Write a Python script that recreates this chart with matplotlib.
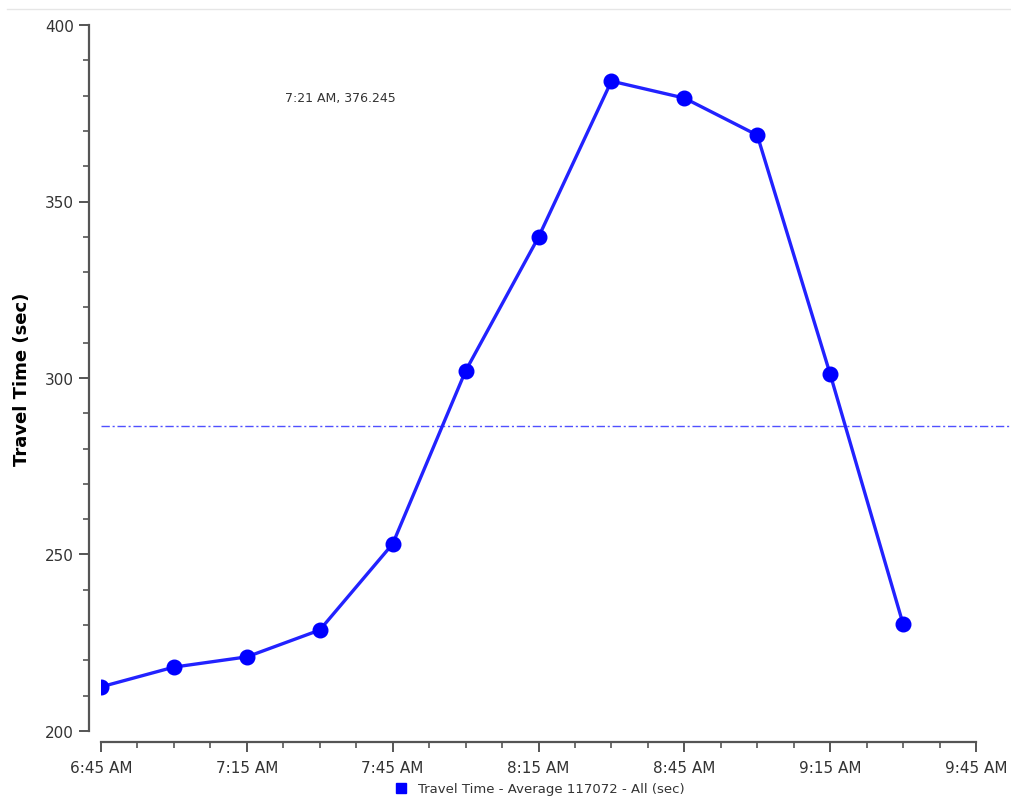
import matplotlib
matplotlib.use('Agg')
import matplotlib.pyplot as plt
from matplotlib.lines import Line2D
from matplotlib.ticker import MultipleLocator

# minutes after midnight, 15-minute bins
times = [405, 420, 435, 450, 465, 480, 495, 510, 525, 540, 555, 570]
travel_time = [212.5, 218.1, 221.0, 228.6, 253.0, 302.0, 339.9, 384.1, 379.3, 368.8, 301.1, 230.3]
average = 286.4

tick_times = [405, 435, 465, 495, 525, 555, 585]
tick_labels = ['6:45 AM', '7:15 AM', '7:45 AM', '8:15 AM', '8:45 AM', '9:15 AM', '9:45 AM']
y_ticks = [200, 250, 300, 350, 400]

BLUE = '#2222ff'
GREY = '#555555'

fig = plt.figure(figsize=(10.12, 8.04), dpi=100)
ax = fig.add_axes([101 / 1012, 72 / 804, 875 / 1012, 706 / 804])

ax.plot(times, travel_time, color=BLUE, linewidth=2.4, marker='o',
        markersize=10.5, markerfacecolor='#0000ff', markeredgecolor='#0000ff', zorder=3)

# average line runs past the plot area to the right edge
ax.axhline(average, xmin=0, xmax=1.04, color='#5050ff', linewidth=1,
           linestyle=(0, (6, 2, 1.5, 2)), clip_on=False, zorder=2)

ax.set_xlim(tick_times[0], tick_times[-1])
ax.set_ylim(200, 400)
ax.set_xticks(tick_times)
ax.set_xticklabels(tick_labels)
ax.xaxis.set_minor_locator(MultipleLocator(7.5))
ax.set_yticks(y_ticks)
ax.yaxis.set_minor_locator(MultipleLocator(10))

for side in ['top', 'right']:
    ax.spines[side].set_visible(False)
ax.spines['left'].set_position(('outward', 9))
ax.spines['bottom'].set_position(('outward', 8))
for side in ['left', 'bottom']:
    ax.spines[side].set_color(GREY)
    ax.spines[side].set_linewidth(1.6)

ax.tick_params(which='major', length=7, width=1.4, color=GREY, labelsize=11,
               labelcolor='#333333')
ax.tick_params(which='minor', length=4, width=1.2, color=GREY)
ax.tick_params(axis='x', pad=6)

ax.set_ylabel('Travel Time (sec)', fontsize=13, fontweight='bold', labelpad=10)

ax.text(0.21, 0.893, '7:21 AM, 376.245', transform=ax.transAxes,
        fontsize=9, color='#333333')

# thin rule at the top of the figure
fig.add_artist(Line2D([7 / 1012, 1010 / 1012], [794 / 804, 794 / 804],
                      color='#e6e6e6', linewidth=1))

handle = Line2D([], [], color='#0000ff', marker='s', linestyle='none', markersize=7)
fig.legend([handle], ['Travel Time - Average 117072 - All (sec)'],
           loc='center', bbox_to_anchor=(0.53, 14 / 804), frameon=False,
           fontsize=9.5, handletextpad=0.3, labelcolor='#333333')

plt.savefig('out.png', dpi=100)
plt.close()
